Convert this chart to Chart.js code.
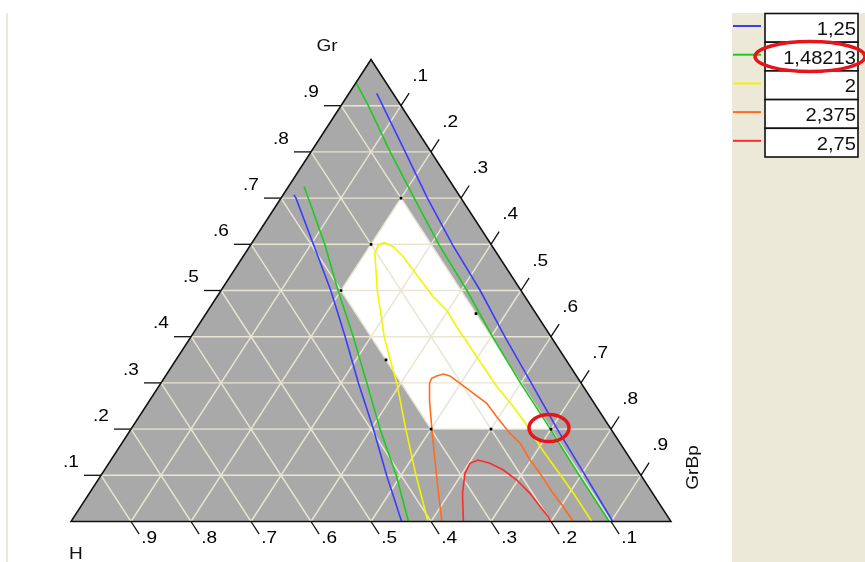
<!DOCTYPE html>
<html>
<head>
<meta charset="utf-8">
<script src="https://cdn.jsdelivr.net/npm/chart.js@4.4.1/dist/chart.umd.min.js"></script>
<style>
  html, body { margin: 0; padding: 0; background: #ffffff; }
  #wrap { width: 865px; height: 562px; position: relative; }
</style>
</head>
<body>
<div id="wrap"><canvas id="c" width="865" height="562"></canvas></div>
<script>
// Mixture components (ternary axes)
const componentTop = 'Gr';
const componentLeft = 'H';
const componentRight = 'GrBp';
const axisTicks = [0.1, 0.2, 0.3, 0.4, 0.5, 0.6, 0.7, 0.8, 0.9];

// Contour levels of the response
const levels = [1.25, 1.48213, 2, 2.375, 2.75];
const levelColors = ['#3c3cff', '#1ccc1c', '#f4f400', '#ff6c1c', '#ff2a2a'];

// Contour traces, each point is [Gr, GrBp]
const c125left = [[0.707, 0.018], [0.7, 0.025], [0.6, 0.104], [0.5, 0.183], [0.4, 0.257], [0.3, 0.329], [0.2, 0.404], [0.1, 0.476], [0, 0.551]];
const c125right = [[0.927, 0.046], [0.9, 0.0695], [0.8, 0.157], [0.7, 0.244], [0.6, 0.3355], [0.5, 0.432], [0.4, 0.523], [0.3, 0.617], [0.2, 0.7105], [0.1, 0.807], [0, 0.903]];
const c148left = [[0.725, 0.026], [0.7, 0.0455], [0.6, 0.123], [0.5, 0.195], [0.4, 0.2705], [0.3, 0.343], [0.2, 0.415], [0.1, 0.492], [0, 0.5625]];
const c148right = [[0.95, 0.0], [0.9, 0.0455], [0.8, 0.132], [0.7, 0.222], [0.6, 0.313], [0.5, 0.41], [0.4, 0.5025], [0.3, 0.599], [0.2, 0.699], [0.1, 0.797], [0, 0.897]];
const c200 = [[0, 0.595], [0.1, 0.525], [0.2, 0.458], [0.3, 0.393], [0.35, 0.357], [0.4, 0.322], [0.5, 0.2605], [0.55, 0.233], [0.5805, 0.216], [0.5985, 0.213], [0.6035, 0.22], [0.5948, 0.24], [0.5732, 0.267], [0.5444, 0.298], [0.5156, 0.329], [0.4866, 0.3605], [0.4578, 0.397], [0.4216, 0.432], [0.3784, 0.476], [0.3351, 0.52], [0.2918, 0.564], [0.2485, 0.613], [0.2089, 0.655], [0.1619, 0.701], [0.1115, 0.754], [0.061, 0.807], [0, 0.868]];
const c2375 = [[0, 0.618], [0.061, 0.582], [0.1331, 0.54], [0.2052, 0.4985], [0.263, 0.466], [0.2991, 0.448], [0.31, 0.446], [0.315, 0.452], [0.3193, 0.461], [0.315, 0.474], [0.2991, 0.499], [0.2775, 0.532], [0.2558, 0.565], [0.2268, 0.596], [0.1909, 0.636], [0.1693, 0.664], [0.1331, 0.6985], [0.1043, 0.7295], [0.061, 0.773], [0.032, 0.8045], [0, 0.837]];
const c275 = [[0, 0.654], [0.061, 0.622], [0.1043, 0.6045], [0.126, 0.602], [0.1331, 0.612], [0.126, 0.635], [0.1115, 0.665], [0.0898, 0.698], [0.061, 0.7345], [0.032, 0.766], [0.0104, 0.79], [0, 0.7995]];

// Feasible (constrained) region and design points, [Gr, GrBp]
const feasibleRegion = [[0.7, 0.2], [0.5, 0.2], [0.2, 0.5], [0.2, 0.7]];
const designPoints = [[0.7, 0.2], [0.6, 0.2], [0.5, 0.2], [0.35, 0.35], [0.2, 0.5], [0.2, 0.6], [0.2, 0.7], [0.45, 0.45]];
const highlightedPoint = [0.2, 0.7];

// ternary -> cartesian (x along the base, y = Gr)
const toXY = ([gr, grbp]) => ({ x: grbp + gr / 2, y: gr });
const fmtLevel = v => String(v).replace('.', ',');
const fmtTick = v => '.' + Math.round(v * 10);

const FONT = '"Liberation Sans", Arial, sans-serif';
const XSTRETCH = 1.12;

function stretchedText(ctx, str, x, y, size, align, rot) {
  ctx.save();
  ctx.translate(x, y);
  if (rot) ctx.rotate(rot);
  ctx.scale(XSTRETCH, 1);
  ctx.font = size + 'px ' + FONT;
  ctx.textAlign = align || 'center';
  ctx.textBaseline = 'middle';
  ctx.fillText(str, 0, 0);
  ctx.restore();
}

function makePx(chart) {
  const xs = chart.scales.x, ys = chart.scales.y;
  return (gr, grbp) => {
    const p = toXY([gr, grbp]);
    return { x: xs.getPixelForValue(p.x), y: ys.getPixelForValue(p.y) };
  };
}

function polyPath(ctx, pts) {
  ctx.beginPath();
  pts.forEach((p, i) => (i ? ctx.lineTo(p.x, p.y) : ctx.moveTo(p.x, p.y)));
  ctx.closePath();
}

const ternaryPlugin = {
  id: 'ternaryFrame',
  beforeDraw(chart) {
    const ctx = chart.ctx;
    ctx.save();
    ctx.fillStyle = '#ffffff';
    ctx.fillRect(0, 0, chart.width, chart.height);
    // side panel and left frame strip
    ctx.fillStyle = '#ECE9D8';
    ctx.fillRect(732, 13, chart.width - 732, chart.height - 13);
    ctx.fillRect(6, 13, 2, chart.height - 13);
    ctx.restore();
  },
  beforeDatasetsDraw(chart) {
    const ctx = chart.ctx, px = makePx(chart);
    const A = px(0, 0), B = px(0, 1), C = px(1, 0); // H, GrBp, Gr vertices
    ctx.save();
    // triangle body
    ctx.fillStyle = '#a9a9a9';
    polyPath(ctx, [A, B, C]);
    ctx.fill();
    // feasible region
    ctx.fillStyle = '#ffffff';
    polyPath(ctx, feasibleRegion.map(p => px(p[0], p[1])));
    ctx.fill();
    // grid
    ctx.strokeStyle = '#e9e5d3';
    ctx.lineWidth = 1.4;
    axisTicks.forEach(t => {
      const segs = [
        [px(t, 0), px(t, 1 - t)],          // constant Gr
        [px(0, t), px(1 - t, t)],          // constant GrBp
        [px(0, 1 - t), px(1 - t, 0)]       // constant H
      ];
      segs.forEach(([p, q]) => {
        ctx.beginPath();
        ctx.moveTo(p.x, p.y);
        ctx.lineTo(q.x, q.y);
        ctx.stroke();
      });
    });
    ctx.restore();
  },
  afterDatasetsDraw(chart) {
    const ctx = chart.ctx, px = makePx(chart);
    const A = px(0, 0), B = px(0, 1), C = px(1, 0);
    ctx.save();
    // triangle outline
    ctx.strokeStyle = '#111111';
    ctx.lineWidth = 1.5;
    polyPath(ctx, [A, B, C]);
    ctx.stroke();

    const unit = (p, q) => { const dx = q.x - p.x, dy = q.y - p.y, l = Math.hypot(dx, dy); return { x: dx / l, y: dy / l }; };
    const dBottom = unit(C, B);   // parallel to right edge, pointing down
    const dRight = unit(A, C);    // parallel to left edge, pointing up
    ctx.fillStyle = '#000000';
    ctx.lineWidth = 1.3;
    axisTicks.forEach(t => {
      // Gr axis on the left edge
      let p = px(t, 0);
      let e = { x: p.x - 17, y: p.y };
      ctx.beginPath(); ctx.moveTo(p.x, p.y); ctx.lineTo(e.x, e.y); ctx.stroke();
      stretchedText(ctx, fmtTick(t), e.x - 13, e.y - 13, 17);
      // H axis along the base
      p = px(0, 1 - t);
      e = { x: p.x + dBottom.x * 15, y: p.y + dBottom.y * 15 };
      ctx.beginPath(); ctx.moveTo(p.x, p.y); ctx.lineTo(e.x, e.y); ctx.stroke();
      stretchedText(ctx, fmtTick(t), e.x + 10, e.y + 4.5, 17);
      // GrBp axis on the right edge
      p = px(1 - t, t);
      e = { x: p.x + dRight.x * 15, y: p.y + dRight.y * 15 };
      ctx.beginPath(); ctx.moveTo(p.x, p.y); ctx.lineTo(e.x, e.y); ctx.stroke();
      stretchedText(ctx, fmtTick(t), e.x + 11, e.y - 17, 17);
    });

    // component names
    ctx.fillStyle = '#111111';
    stretchedText(ctx, componentTop, C.x - 44, C.y - 13, 17);
    stretchedText(ctx, componentLeft, A.x + 5, A.y + 33, 17);
    stretchedText(ctx, componentRight, B.x + 22, B.y - 54, 17, 'center', -Math.PI / 2);

    // highlighted design point on the 1,48213 contour
    const h = px(highlightedPoint[0], highlightedPoint[1]);
    ctx.strokeStyle = '#e8141c';
    ctx.lineWidth = 3.5;
    ctx.beginPath();
    ctx.ellipse(h.x - 2, h.y - 1, 20, 13.5, 0, 0, Math.PI * 2);
    ctx.stroke();

    // legend of contour levels
    const top = 13.5, rowH = 28.7, bx = 765, bw = 93;
    levels.forEach((lv, i) => {
      const y0 = top + i * rowH;
      ctx.fillStyle = '#ffffff';
      ctx.fillRect(bx, y0, bw, rowH);
      ctx.strokeStyle = '#111111';
      ctx.lineWidth = 1.6;
      ctx.strokeRect(bx, y0, bw, rowH);
      ctx.strokeStyle = levelColors[i];
      ctx.lineWidth = 2;
      ctx.beginPath();
      ctx.moveTo(733, y0 + 12.5);
      ctx.lineTo(761, y0 + 12.5);
      ctx.stroke();
      ctx.fillStyle = '#111111';
      stretchedText(ctx, fmtLevel(lv), bx + bw - 2, y0 + rowH / 2 + 2, 18, 'right');
    });
    ctx.strokeStyle = '#e8141c';
    ctx.lineWidth = 3.5;
    ctx.beginPath();
    ctx.ellipse(810, top + rowH * 1.5, 55, 15, 0, 0, Math.PI * 2);
    ctx.stroke();
    ctx.restore();
  }
};

const contourSets = [
  [c125left, 0], [c125right, 0],
  [c148left, 1], [c148right, 1],
  [c200, 2], [c2375, 3], [c275, 4]
];

const datasets = contourSets.map(([pts, li], k) => ({
  label: fmtLevel(levels[li]),
  data: pts.map(toXY),
  showLine: true,
  borderColor: levelColors[li],
  backgroundColor: levelColors[li],
  borderWidth: 1.6,
  pointRadius: 0,
  tension: 0,
  order: 10 - k
}));
datasets.push({
  label: 'design points',
  data: designPoints.map(toXY),
  showLine: false,
  pointStyle: 'rect',
  pointRadius: 1.9,
  borderWidth: 0,
  backgroundColor: '#000000',
  borderColor: '#000000',
  order: 0
});

new Chart(document.getElementById('c'), {
  type: 'scatter',
  data: { datasets },
  options: {
    responsive: false,
    animation: false,
    events: [],
    layout: { padding: { left: 71, right: 194, top: 59.5, bottom: 40.5 } },
    scales: {
      x: { type: 'linear', min: 0, max: 1, display: false },
      y: { type: 'linear', min: 0, max: 1, display: false }
    },
    plugins: { legend: { display: false }, tooltip: { enabled: false } }
  },
  plugins: [ternaryPlugin]
});
</script>
</body>
</html>
